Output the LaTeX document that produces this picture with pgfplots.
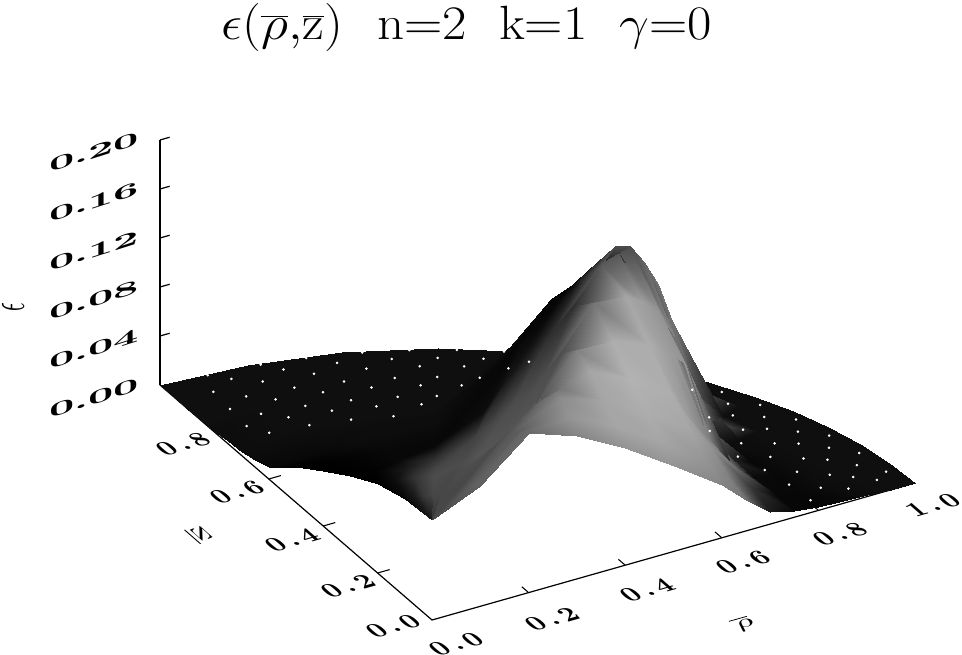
\documentclass[border=0pt]{standalone}
\usepackage{pgfplots}
\usepackage{pgfplotstable}
\pgfplotsset{compat=1.18}
% t = polar angle (deg), r = radius, e = energy density x 1000, g = grey level in percent
\pgfplotstableread[row sep=\\]{
t r e g\\
0 0 82 28\\0 .1 98 38\\0 .2 130 42\\0 .3 117 52\\0 .4 96 58\\0 .5 70 58\\0 .6 43 52\\0 .65 25 45\\0 .7 10 10\\0 .75 5 3\\0 .8 3 2\\0 .85 2 3\\0 .9 1 5\\0 .95 0 6\\0 1 0 6\\
5 0 82 28\\5 .1 98 38\\5 .2 129 40\\5 .3 127 58\\5 .4 108 65\\5 .5 82 65\\5 .6 52 58\\5 .65 33 50\\5 .7 18 20\\5 .75 7 3\\5 .8 3 3\\5 .85 2 5\\5 .9 1 6\\5 .95 0 6\\5 1 0 6\\
10 0 82 28\\10 .1 97 38\\10 .2 125 36\\10 .3 138 55\\10 .4 122 65\\10 .5 98 68\\10 .6 70 65\\10 .65 48 58\\10 .7 26 45\\10 .75 9 4\\10 .8 4 3\\10 .85 2 5\\10 .9 1 6\\10 .95 0 6\\10 1 0 6\\
15 0 82 28\\15 .1 96 36\\15 .2 120 35\\15 .3 144 42\\15 .4 140 65\\15 .5 118 70\\15 .6 92 68\\15 .65 62 60\\15 .7 37 50\\15 .75 12 15\\15 .8 4 3\\15 .85 2 5\\15 .9 1 6\\15 .95 0 6\\15 1 0 6\\
20 0 82 28\\20 .1 94 33\\20 .2 115 33\\20 .3 128 33\\20 .4 152 50\\20 .5 142 68\\20 .6 122 68\\20 .65 108 62\\20 .7 90 58\\20 .75 32 45\\20 .8 6 5\\20 .85 3 5\\20 .9 1 6\\20 .95 0 6\\20 1 0 6\\
25 0 82 28\\25 .1 92 30\\25 .2 108 30\\25 .3 112 32\\25 .4 145 30\\25 .5 168 45\\25 .6 155 65\\25 .65 142 62\\25 .7 125 58\\25 .75 95 52\\25 .8 45 45\\25 .85 6 40\\25 .9 2 6\\25 .95 1 6\\25 1 0 6\\
30 0 82 28\\30 .1 90 28\\30 .2 100 30\\30 .3 100 33\\30 .4 125 30\\30 .5 160 18\\30 .6 174 35\\30 .65 180 30\\30 .7 170 30\\30 .75 148 40\\30 .8 120 45\\30 .85 80 45\\30 .9 18 42\\30 .95 4 6\\30 1 0 6\\
35 0 82 28\\35 .1 88 28\\35 .2 92 30\\35 .3 88 33\\35 .4 105 30\\35 .5 135 18\\35 .6 155 8\\35 .65 155 5\\35 .7 150 3\\35 .75 140 2\\35 .8 125 2\\35 .85 100 2\\35 .9 60 5\\35 .95 15 6\\35 1 0 6\\
40 0 82 28\\40 .1 86 28\\40 .2 85 30\\40 .3 78 33\\40 .4 90 30\\40 .5 115 10\\40 .6 125 3\\40 .65 128 2\\40 .7 125 2\\40 .75 120 2\\40 .8 115 2\\40 .85 90 3\\40 .9 50 5\\40 .95 15 6\\40 1 0 6\\
45 0 82 28\\45 .1 84 28\\45 .2 80 30\\45 .3 70 33\\45 .4 75 28\\45 .5 90 8\\45 .6 100 3\\45 .65 100 2\\45 .7 90 2\\45 .75 90 2\\45 .8 90 3\\45 .85 75 5\\45 .9 50 6\\45 .95 15 6\\45 1 0 6\\
50 0 82 28\\50 .1 82 28\\50 .2 75 28\\50 .3 63 30\\50 .4 60 26\\50 .5 60 5\\50 .6 65 3\\50 .65 65 3\\50 .7 60 3\\50 .75 58 5\\50 .8 50 5\\50 .85 38 6\\50 .9 20 6\\50 .95 6 6\\50 1 0 6\\
60 0 82 20\\60 .1 81 28\\60 .2 73 30\\60 .3 56 28\\60 .4 42 20\\60 .5 32 3\\60 .6 22 4\\60 .65 17 5\\60 .7 12 5\\60 .75 6 6\\60 .8 3 6\\60 .85 2 6\\60 .9 1 6\\60 .95 0 6\\60 1 0 6\\
70 0 82 10\\70 .1 80 22\\70 .2 73 20\\70 .3 58 10\\70 .4 42 3\\70 .5 28 3\\70 .6 12 4\\70 .65 7 5\\70 .7 4 5\\70 .75 2 6\\70 .8 1 6\\70 .85 0 6\\70 .9 0 6\\70 .95 0 6\\70 1 0 6\\
80 0 82 10\\80 .1 80 10\\80 .2 73 5\\80 .3 59 1\\80 .4 44 1\\80 .5 28 1\\80 .6 11 3\\80 .65 6 4\\80 .7 3 5\\80 .75 2 6\\80 .8 1 6\\80 .85 0 6\\80 .9 0 6\\80 .95 0 6\\80 1 0 6\\
90 0 82 10\\90 .1 80 3\\90 .2 73 0\\90 .3 60 0\\90 .4 45 0\\90 .5 29 0\\90 .6 10 3\\90 .65 6 4\\90 .7 3 5\\90 .75 2 5\\90 .8 1 5\\90 .85 0 6\\90 .9 0 6\\90 .95 0 6\\90 1 0 6\\
}\surfdata
\newcommand\lbl[4]{\begin{scope}[shift={(#1*0.75pt,{(654-#2)*0.75pt})}]\node[inner sep=0pt,transform shape,cm={#3,(0,0)}] at (0,0) {#4};\end{scope}}
\begin{document}
\begin{tikzpicture}
\path[use as bounding box] (0,0) rectangle (721.5pt,490.5pt);
\begin{axis}[
  at={(324pt,25.5pt)},anchor=origin,
  x={(362.25pt,102.75pt)},y={(-204pt,176.25pt)},z={(0pt,918.75pt)},
  xmin=0,xmax=1,ymin=0,ymax=1,zmin=0,zmax=0.2,
  hide axis,clip=false,
  colormap={bw}{gray(0cm)=(0);gray(1cm)=(1)},
  point meta min=0,point meta max=100,
]
% axes
\addplot3[black,line width=0.9pt] coordinates {(0,1,0) (0,0,0) (1,0,0)};
\addplot3[black,line width=1.1pt] coordinates {(0,1,0) (0,1,0.2)};
\addplot3[black,line width=0.9pt] coordinates {(0,1,0.04) (0.02,1,0.04)};
\addplot3[black,line width=0.9pt] coordinates {(0,1,0.08) (0.02,1,0.08)};
\addplot3[black,line width=0.9pt] coordinates {(0,1,0.12) (0.02,1,0.12)};
\addplot3[black,line width=0.9pt] coordinates {(0,1,0.16) (0.02,1,0.16)};
\addplot3[black,line width=0.9pt] coordinates {(0,1,0.20) (0.02,1,0.20)};
\addplot3[black,line width=0.8pt] coordinates {(0.2,0,0) (0.2,0.025,0)};
\addplot3[black,line width=0.8pt] coordinates {(0.4,0,0) (0.4,0.025,0)};
\addplot3[black,line width=0.8pt] coordinates {(0.6,0,0) (0.6,0.025,0)};
\addplot3[black,line width=0.8pt] coordinates {(0.8,0,0) (0.8,0.025,0)};
\addplot3[black,line width=0.8pt] coordinates {(0,0.2,0) (0.025,0.2,0)};
\addplot3[black,line width=0.8pt] coordinates {(0,0.4,0) (0.025,0.4,0)};
\addplot3[black,line width=0.8pt] coordinates {(0,0.6,0) (0.025,0.6,0)};
% surface
\addplot3[surf,shader=interp,z buffer=sort,mesh/rows=15,mesh/cols=15,
  point meta=\thisrow{g}]
  table[x expr=\thisrow{r}*cos(\thisrow{t}),y expr=\thisrow{r}*sin(\thisrow{t}),z expr=\thisrow{e}/1000] {\surfdata};
% white gaps of the mesh on the flat outer part
\addplot3[only marks,mark=*,mark size=0.75pt,white,mark options={draw=white,fill=white}]
  table[row sep=\\,x expr=\thisrow{r}*cos(\thisrow{t}),y expr=\thisrow{r}*sin(\thisrow{t}),z expr=0.003] {
t r\\
66 .74\\72 .74\\78 .74\\84 .74\\
62 .78\\68 .78\\74 .78\\80 .78\\86 .78\\60 .81\\65 .81\\71 .81\\77 .81\\83 .81\\
57 .85\\62 .85\\68 .85\\74 .85\\80 .85\\86 .85\\55 .88\\60 .88\\65 .88\\71 .88\\77 .88\\83 .88\\
52 .92\\57 .92\\62 .92\\68 .92\\74 .92\\80 .92\\86 .92\\50 .95\\55 .95\\60 .95\\65 .95\\71 .95\\77 .95\\83 .95\\
53 .98\\58 .98\\63 .98\\68 .98\\74 .98\\79 .98\\85 .98\\
2 .80\\7 .80\\12 .80\\17 .80\\4 .84\\9 .84\\14 .84\\19 .84\\24 .84\\
2 .88\\6 .88\\11 .88\\16 .88\\21 .88\\26 .88\\4 .91\\9 .91\\14 .91\\19 .91\\24 .91\\
2 .94\\6 .94\\11 .94\\16 .94\\21 .94\\26 .94\\31 .95\\3 .97\\8 .97\\13 .97\\18 .97\\23 .97\\28 .97\\
};
\end{axis}
% title
\node[inner sep=0pt,xscale=1.6,yscale=1.45] at (350pt,470pt) {\Huge $\epsilon\!\left(\overline{\rho}{,}\overline{\mathrm{z}}\right)$\hspace{0.65em}n=2\hspace{0.6em}k=1\hspace{0.6em}$\gamma$=0};
% z labels
\lbl{94}{152}{3.3,1.05,0,1.5}{\bfseries 0.20}
\lbl{94}{202}{3.3,1.05,0,1.5}{\bfseries 0.16}
\lbl{94}{251}{3.3,1.05,0,1.5}{\bfseries 0.12}
\lbl{94}{300}{3.3,1.05,0,1.5}{\bfseries 0.08}
\lbl{94}{349}{3.3,1.05,0,1.5}{\bfseries 0.04}
\lbl{94}{398}{3.3,1.05,0,1.5}{\bfseries 0.00}
% rho labels
\lbl{456}{644}{2.0,.57,-1.5,1.3}{\bfseries 0\,.\,0}
\lbl{552}{619}{2.0,.57,-1.5,1.3}{\bfseries 0\,.\,2}
\lbl{647}{590}{2.0,.57,-1.5,1.3}{\bfseries 0\,.\,4}
\lbl{743}{562}{2.0,.57,-1.5,1.3}{\bfseries 0\,.\,6}
\lbl{840}{534}{2.0,.57,-1.5,1.3}{\bfseries 0\,.\,8}
\lbl{933}{505}{2.0,.57,-1.5,1.3}{\bfseries 1\,.\,0}
% z-bar labels
\lbl{393}{626}{2.0,.57,-1.5,1.3}{\bfseries 0\,.\,0}
\lbl{348}{586}{2.0,.57,-1.5,1.3}{\bfseries 0\,.\,2}
\lbl{292}{540}{2.0,.57,-1.5,1.3}{\bfseries 0\,.\,4}
\lbl{237}{492}{2.0,.57,-1.5,1.3}{\bfseries 0\,.\,6}
\lbl{183}{444}{2.0,.57,-1.5,1.3}{\bfseries 0\,.\,8}
% axis names
\lbl{744}{624}{2.6,.73,-1.3,1.1}{$\overline{\rho}$}
\lbl{199}{535}{2.7,-2.35,-1.9,-.54}{$\overline{\mathrm{z}}$}
\lbl{13}{307}{0,1.6,-3.8,0}{$\epsilon$}
\end{tikzpicture}
\end{document}
